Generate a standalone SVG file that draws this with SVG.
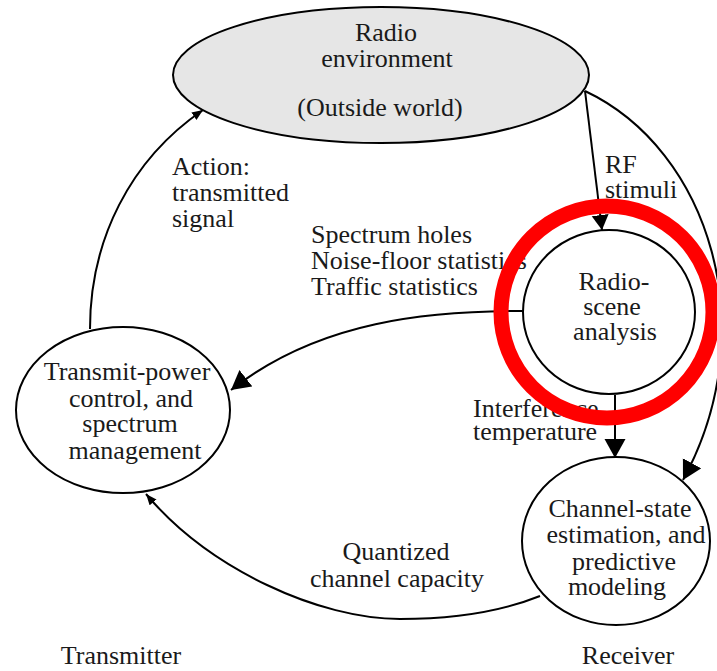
<svg xmlns="http://www.w3.org/2000/svg" width="717" height="671" viewBox="0 0 717 671">
  <style>
    .node { fill: #ffffff; stroke: #000000; stroke-width: 2; }
    .env { fill: #e6e6e6; stroke: #000000; stroke-width: 2; }
    .edge { fill: none; stroke: #000000; stroke-width: 2; }
    text { font-family: "Liberation Serif", "Times New Roman", serif; font-size: 26px; fill: #1a1a1a; }
    .c { text-anchor: middle; }
    .highlight { fill: none; stroke: #ff0000; stroke-width: 15; }
  </style>
  <defs>
    <marker id="arrowLarge" markerUnits="userSpaceOnUse" markerWidth="20" markerHeight="22" refX="19" refY="10.5" orient="auto">
      <path d="M0,0 L19,10.5 L0,21 Z" fill="#000"/>
    </marker>
    <marker id="arrowMedium" markerUnits="userSpaceOnUse" markerWidth="16" markerHeight="18" refX="15" refY="8.5" orient="auto">
      <path d="M0,0 L15,8.5 L0,17 Z" fill="#000"/>
    </marker>
    <marker id="arrowSmall" markerUnits="userSpaceOnUse" markerWidth="12" markerHeight="10" refX="11" refY="4.5" orient="auto">
      <path d="M0,0 L11,4.5 L0,9 Z" fill="#000"/>
    </marker>
  </defs>

  <!-- connectors -->
  <g id="connectors">
    <!-- RF stimuli -->
    <path class="edge" d="M585,91 L602,230" marker-end="url(#arrowMedium)"/>
    <!-- outer feed from environment to receiver -->
    <path class="edge" d="M585,91 C710,150 765,330 683,480" marker-end="url(#arrowLarge)"/>
    <!-- interference temperature -->
    <path class="edge" d="M615,395 L615,458" marker-end="url(#arrowLarge)"/>
    <!-- spectrum holes etc. -->
    <path class="edge" d="M523,311 C430,311 320,320 231,390" marker-end="url(#arrowLarge)"/>
    <!-- quantized channel capacity -->
    <path class="edge" d="M540,596 C500,612 450,619 400,619 C320,619 210,570 146,494" marker-end="url(#arrowSmall)"/>
    <!-- action: transmitted signal -->
    <path class="edge" d="M90,329 C90,240 130,160 203,110" marker-end="url(#arrowSmall)"/>
  </g>

  <g id="radio-environment">
    <ellipse class="env" cx="381" cy="75" rx="208" ry="68"/>
    <text class="c" x="386" y="41">Radio</text>
    <text class="c" x="387" y="67">environment</text>
    <text class="c" x="380" y="116">(Outside world)</text>
  </g>

  <g id="radio-scene-analysis">
    <ellipse class="node" cx="609" cy="312" rx="86" ry="82"/>
    <text class="c" x="614" y="290">Radio-</text>
    <text class="c" x="612" y="315">scene</text>
    <text class="c" x="615" y="340">analysis</text>
  </g>

  <g id="transmit-power-control">
    <ellipse class="node" cx="123" cy="410" rx="107" ry="83"/>
    <text class="c" x="127" y="380">Transmit-power</text>
    <text class="c" x="131" y="407">control, and</text>
    <text class="c" x="130" y="432">spectrum</text>
    <text class="c" x="135" y="459">management</text>
  </g>

  <g id="channel-state-estimation">
    <ellipse class="node" cx="616" cy="541" rx="94" ry="84"/>
    <text class="c" x="620" y="517">Channel-state</text>
    <text class="c" x="626" y="543">estimation, and</text>
    <text class="c" x="624" y="570">predictive</text>
    <text class="c" x="617" y="595">modeling</text>
  </g>

  <!-- connector labels -->
  <g id="labels">
    <text x="172" y="175">Action:</text>
    <text x="172" y="201">transmitted</text>
    <text x="172" y="227">signal</text>
    <text x="605" y="173">RF</text>
    <text x="605" y="198">stimuli</text>
    <text x="311" y="243">Spectrum holes</text>
    <text x="311" y="269">Noise-floor statistics</text>
    <text x="311" y="295">Traffic statistics</text>
    <text x="473" y="417">Interference</text>
    <text x="473" y="440">temperature</text>
    <text class="c" x="396" y="560">Quantized</text>
    <text class="c" x="397" y="587">channel capacity</text>
    <text class="c" x="121" y="664">Transmitter</text>
    <text class="c" x="628" y="664">Receiver</text>
  </g>

  <!-- highlight ring -->
  <circle class="highlight" cx="607" cy="312" r="106"/>
</svg>
